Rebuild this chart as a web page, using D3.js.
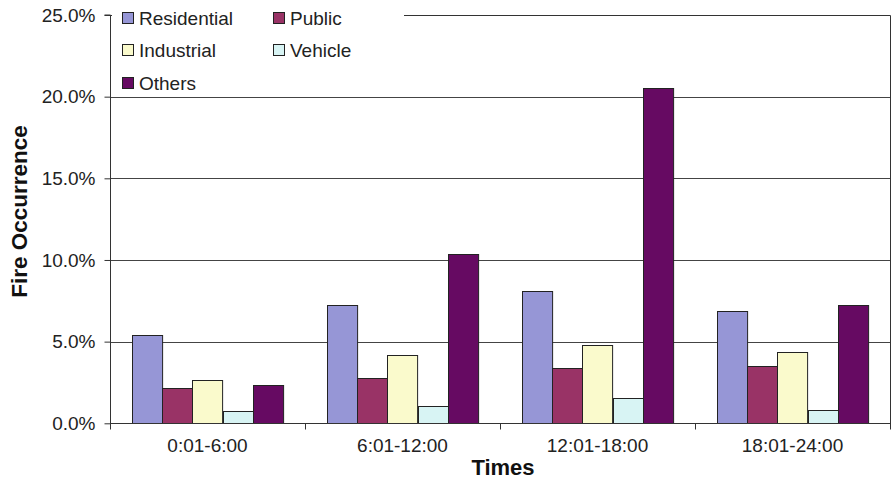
<!DOCTYPE html>
<html><head><meta charset="utf-8">
<script src="https://cdn.jsdelivr.net/npm/d3@7"></script>
<style>body{margin:0;background:#fff}svg{display:block}text{font-family:"Liberation Sans",Arial,sans-serif}</style>
</head><body><svg id="c" width="893" height="479"></svg>
<script>
const categories = ["0:01-6:00","6:01-12:00","12:01-18:00","18:01-24:00"];
const seriesNames = ["Residential","Public","Industrial","Vehicle","Others"];
const residential = [5.4, 7.25, 8.1, 6.9];
const publicV = [2.18, 2.76, 3.37, 3.53];
const industrial = [2.63, 4.18, 4.8, 4.35];
const vehicle = [0.75, 1.04, 1.57, 0.81];
const others = [2.33, 10.35, 20.55, 7.26];
const yTicks = [0, 5, 10, 15, 20, 25];
const colors = ["#9696d6","#993366","#fafacc","#d8f4f4","#660a62"];

const seriesValues = [residential, publicV, industrial, vehicle, others];
const svg = d3.select("#c");
const L = 110, R = 890, T = 15, B = 423.3;
const x = d3.scaleBand().domain(categories).range([L, R]).padding(0);
const bw = x.bandwidth();
const x1 = d3.scaleBand().domain(seriesNames).range([bw*0.114, bw*0.886]).padding(0);
const y = d3.scaleLinear().domain([0, 25]).range([B, T]);

// gridlines
svg.append("g").selectAll("line").data(yTicks.filter(d => d > 0 && d < 25)).join("line")
  .attr("x1", L).attr("x2", R).attr("y1", d => Math.round(y(d)) + 0.5).attr("y2", d => Math.round(y(d)) + 0.5)
  .attr("stroke", "#444").attr("stroke-width", 1);
// frame top & right
svg.append("path").attr("d", `M${L},${Math.round(T)+0.5}H${R+0.5}V${B}`).attr("fill","none").attr("stroke","#333");

// bars
const data = [];
categories.forEach((c, i) => seriesNames.forEach((s, j) => data.push({c, s, v: seriesValues[j][i], j})));
svg.append("g").selectAll("rect").data(data).join("rect")
  .attr("x", d => Math.round(x(d.c) + x1(d.s)) + 0.5)
  .attr("y", d => Math.round(y(d.v)) + 0.5)
  .attr("width", x1.bandwidth())
  .attr("height", d => Math.round(B) - Math.round(y(d.v)))
  .attr("fill", d => colors[d.j]).attr("stroke", "#222").attr("stroke-width", 1);

// y axis
const ya = d3.axisLeft(y).tickValues(yTicks).tickSize(6).tickFormat(d => d.toFixed(1) + "%");
const gy = svg.append("g").attr("transform", `translate(${L+0.5},0)`).call(ya);
gy.select(".domain").attr("stroke", "#333").attr("d", `M-6,${y(25)}H0V${B}`);
gy.selectAll(".tick line").attr("stroke", "#333");
gy.selectAll(".tick text").attr("font-size", 19).attr("fill", "#222").attr("x", -15).attr("font-family","Liberation Sans, Arial, sans-serif");

// x axis
const gx = svg.append("g").attr("transform", `translate(0,${Math.round(B)+0.5})`);
gx.append("line").attr("x1", L).attr("x2", R+1).attr("stroke", "#333");
gx.selectAll("line.t").data(categories.concat(["end"])).join("line").attr("class","t")
  .attr("x1", (d,i) => Math.round(L + i*bw) + 0.5).attr("x2", (d,i) => Math.round(L + i*bw) + 0.5)
  .attr("y1", 0).attr("y2", 6).attr("stroke", "#333");
gx.selectAll("text").data(categories).join("text")
  .attr("x", d => x(d) + bw/2).attr("y", 28).attr("text-anchor", "middle")
  .attr("font-size", 19).attr("fill", "#222").text(d => d);

// axis titles
svg.append("text").attr("x", 503).attr("y", 475).attr("text-anchor","middle")
  .attr("font-size", 22).attr("font-weight","bold").attr("fill","#111").text("Times");
svg.append("text").attr("transform", "translate(27,211.5) rotate(-90)").attr("text-anchor","middle")
  .attr("font-size", 22.5).attr("font-weight","bold").attr("fill","#111").text("Fire Occurrence");

// legend
const lg = svg.append("g");
lg.append("rect").attr("x", L+2).attr("y", 0).attr("width", 292).attr("height", 94).attr("fill", "#fff");
const pos = [[122,18],[273,18],[122,50],[273,50],[122,83]];
seriesNames.forEach((s, j) => {
  const [px, py] = pos[j];
  lg.append("rect").attr("x", px+0.5).attr("y", py-5.5).attr("width", 11).attr("height", 11)
    .attr("fill", colors[j]).attr("stroke", "#222");
  lg.append("text").attr("x", px+17).attr("y", py+7).attr("font-size", 19).attr("fill", "#222").text(s);
});
</script></body></html>
